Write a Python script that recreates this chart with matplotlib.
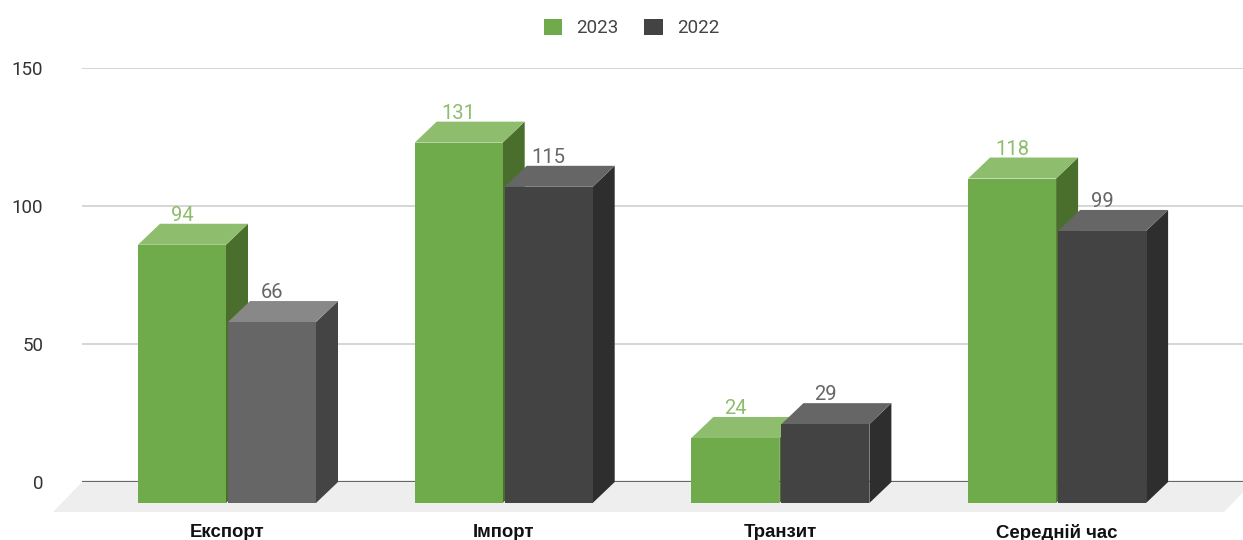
import numpy as np
import matplotlib
matplotlib.use('Agg')
import matplotlib.pyplot as plt
from matplotlib.patches import Polygon, Patch

categories = ['Експорт', 'Імпорт', 'Транзит', 'Середній час']
values_2023 = [94, 131, 24, 118]
values_2022 = [66, 115, 29, 99]
yticks = [0, 50, 100, 150]

# chart is a fake 3d one, so the depth is worked out in pixels
STEP = 276.7
X_SCALE = 1 / STEP
Y_SCALE = 150 / 414
DX = 22 * X_SCALE
DY = 21 * Y_SCALE
BAR_W = 88 * X_SCALE
OFFSET = 45 * X_SCALE
TOP_DROP = 1.2 * Y_SCALE

GREEN = {'front': '#6fab4a', 'top': '#8dbd6d', 'side': '#4a6f2d'}
DARK = {'front': '#434343', 'top': '#666666', 'side': '#2e2e2e'}
GREY = {'front': '#666666', 'top': '#888888', 'side': '#444444'}


def bar3d(ax, xc, value, colors, z):
    left = xc - BAR_W / 2
    right = xc + BAR_W / 2
    base = -DY
    top = value - DY - TOP_DROP
    ax.bar(xc, top - base, width=BAR_W, bottom=base, color=colors['front'], linewidth=0,
           zorder=z + 0.2, clip_on=False)
    ax.add_patch(Polygon([(left, top), (right, top), (right + DX, top + DY), (left + DX, top + DY)],
                         closed=True, facecolor=colors['top'], edgecolor='none', zorder=z + 0.1, clip_on=False))
    ax.add_patch(Polygon([(right, base), (right + DX, base + DY), (right + DX, top + DY), (right, top)],
                         closed=True, facecolor=colors['side'], edgecolor='none', zorder=z, clip_on=False))


plt.rcParams['font.family'] = ['Roboto', 'DejaVu Sans']
fig = plt.figure(figsize=(12.43, 5.4), dpi=100)
# right edge runs past the picture, grid and floor get cut off there
ax = fig.add_axes([82 / 1243, (540 - 482) / 540, 1171 / 1243, 414 / 540])
ax.set_xlim((82 - 227) * X_SCALE, (1253 - 227) * X_SCALE)
ax.set_ylim(0, 150)

for spine in ax.spines.values():
    spine.set_visible(False)

ax.set_yticks(yticks)
ax.tick_params(axis='y', length=0, pad=28, labelsize=13.5, labelcolor='#333333')
ax.grid(axis='y', color='#cccccc', linewidth=1.1, zorder=0)
ax.set_axisbelow(True)

# floor under the bars
ax.add_patch(Polygon([(ax.get_xlim()[0], 0), (ax.get_xlim()[1], 0),
                      (ax.get_xlim()[1] - 29 * X_SCALE, -30 * Y_SCALE),
                      (ax.get_xlim()[0] - 29 * X_SCALE, -30 * Y_SCALE)],
                     closed=True, facecolor='#eeeeee', edgecolor='none', zorder=1, clip_on=False))
ax.axhline(0, color='#666666', linewidth=1.6, zorder=2)

x = np.arange(len(categories))
for i in x:
    green_x = i - OFFSET
    dark_x = i + OFFSET
    bar3d(ax, green_x, values_2023[i], GREEN, 3)
    colors_2022 = GREY if i == 0 else DARK
    bar3d(ax, dark_x, values_2022[i], colors_2022, 4)
    ax.text(green_x, values_2023[i] + 7 * Y_SCALE, str(values_2023[i]), ha='center', va='center',
            fontsize=14.5, color='#8dbd6d', zorder=6, clip_on=False)
    ax.text(dark_x, values_2022[i] + 7 * Y_SCALE, str(values_2022[i]), ha='center', va='center',
            fontsize=14.5, color='#666666', zorder=6, clip_on=False)

ax.set_xticks(x)
ax.set_xticklabels(categories, fontfamily='Liberation Sans', fontweight='bold', fontsize=13.4, color='#111111')
ax.tick_params(axis='x', length=0, pad=30.5)

handles = [Patch(facecolor=GREEN['front'], label='2023'), Patch(facecolor=DARK['front'], label='2022')]
fig.legend(handles=handles, loc='center', bbox_to_anchor=(631.5 / 1243, (540 - 28) / 540), ncol=2, frameon=False,
           fontsize=13.5, labelcolor='#444444', handlelength=1.0, handleheight=1.0, handletextpad=0.75,
           columnspacing=1.35)

plt.savefig('out.png', dpi=100)
plt.close()
